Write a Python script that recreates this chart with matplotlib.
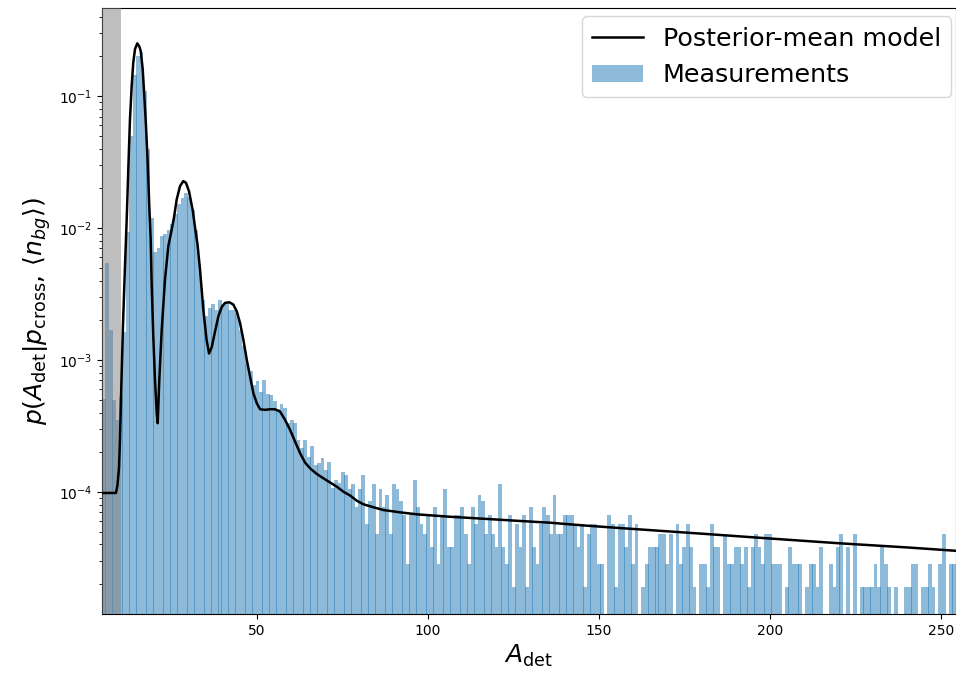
import numpy as np
import matplotlib
matplotlib.use("Agg")
import matplotlib.pyplot as plt

# histogram of A_det: 250 bins between the smallest and largest measurement
a_min, a_max = 4.8, 254.1
n_bins = 250
a_cut = 10.25   # grey band: amplitudes below the detection cut

# densities of the first 72 bins
head_density = [
    5.08e-4, 5.48e-3, 1.70e-3, 5.0e-4, 3.52e-4, 5.26e-4, 1.64e-3, 9.27e-3,
    0.0497, 0.144, 0.200, 0.215, 0.110, 0.040, 0.012, 6.64e-3,
    7.0e-3, 8.63e-3, 8.94e-3, 9.59e-3, 0.01065, 0.0127, 0.0153, 0.0168,
    0.0183, 0.0173, 0.0138, 9.75e-3, 5.3e-3, 2.87e-3, 2.17e-3, 2.49e-3,
    2.68e-3, 2.41e-3, 2.87e-3, 2.68e-3, 2.77e-3, 2.38e-3, 2.38e-3, 2.25e-3,
    1.70e-3, 1.28e-3, 9.37e-4, 8.30e-4, 6.49e-4, 6.96e-4, 5.74e-4, 7.08e-4,
    5.50e-4, 5.45e-4, 4.91e-4, 4.27e-4, 4.66e-4, 4.35e-4, 3.34e-4, 3.52e-4,
    3.34e-4, 2.48e-4, 2.16e-4, 2.48e-4, 1.85e-4, 2.23e-4, 1.60e-4, 1.66e-4,
    1.81e-4, 1.47e-4, 1.69e-4, 1.07e-4, 1.23e-4, 1.17e-4, 1.42e-4, 1.35e-4,
]

# the tail is sparse: counts per bin, one count = 9.55e-6 in density
count_density = 9.55e-6
tail_counts = [
    11, 12, 8, 11, 14, 6, 9, 12, 5, 11, 8, 10, 5, 12, 11, 9, 7, 3, 7, 13,
    8, 6, 5, 7, 4, 8, 3, 7, 11, 4, 4, 7, 7, 8, 5, 3, 8, 6, 10, 9,
    5, 7, 5, 4, 12, 4, 3, 7, 2, 6, 4, 7, 2, 8, 4, 3, 6, 8, 7, 5,
    10, 5, 5, 7, 7, 7, 6, 4, 6, 2, 5, 6, 6, 3, 3, 0,
    7, 6, 2, 6, 6, 4, 7, 3, 6, 0, 2, 3,
    4, 4, 4, 5, 5, 3, 5, 0, 6, 3, 4, 6, 4, 2, 0, 3, 3, 2, 6, 4,
    4, 0, 5, 3, 3, 4, 4, 3, 4, 2, 4, 5, 4, 3, 5, 5, 3, 3, 3, 0,
    2, 4, 3, 3, 3, 0, 2, 3, 3, 2, 4, 0, 0, 3, 2, 4, 5, 0, 4, 0,
    5, 0, 2, 2, 2, 2, 3, 2, 4, 3, 2, 0, 2, 0, 0, 2, 2, 3, 3, 0,
    2, 2, 3, 2, 0, 3, 5, 0, 3, 3,
]

# posterior-mean model curve
model_a = [
    4.8, 7.13, 8.88, 9.32, 9.76, 10.05, 10.49, 10.93, 11.51, 12.01,
    12.48, 12.97, 13.47, 13.94, 14.44, 15.11, 15.69, 16.10, 16.69, 17.15,
    17.65, 18.15, 18.61, 19.02, 19.32, 19.78, 20.28, 20.78, 21.07, 21.54,
    22.24, 23.20, 24.17, 25.16, 25.83, 26.62, 27.59, 28.55, 29.34, 30.22,
    31.30, 31.97, 32.70, 33.43, 34.39, 35.33, 36.06, 36.85, 37.81, 38.78,
    39.77, 40.74, 41.99, 43.16, 44.16, 45.12, 46.08, 47.08, 48.04, 49.01,
    50.0, 50.96, 52.43, 53.89, 55.35, 56.81, 58.27, 59.73, 61.19, 62.65,
    64.11, 65.58, 67.53, 69.46, 71.42, 73.38, 75.31, 77.27, 79.22, 81.15,
    84.07, 87.0, 91.88, 96.76, 106.5, 116.2, 126.0, 135.7, 145.4, 155.2,
    164.9, 181.5, 201.0, 220.5, 240.0, 254.4,
]
model_p = [
    9.83e-5, 9.83e-5, 9.83e-5, 1.13e-4, 1.52e-4, 2.48e-4, 7.08e-4, 1.85e-3, 5.10e-3, 0.0116,
    0.0279, 0.0668, 0.1194, 0.180, 0.227, 0.251, 0.238, 0.220, 0.160, 0.1004,
    0.0594, 0.0313, 0.01466, 8.19e-3, 3.62e-3, 1.51e-3, 7.08e-4, 3.96e-4, 3.32e-4, 7.08e-4,
    1.70e-3, 4.07e-3, 7.29e-3, 9.75e-3, 0.01205, 0.01648, 0.0208, 0.0227, 0.0220, 0.01896,
    0.0136, 0.0101, 7.50e-3, 4.85e-3, 2.41e-3, 1.43e-3, 1.12e-3, 1.25e-3, 1.64e-3, 2.14e-3,
    2.52e-3, 2.71e-3, 2.74e-3, 2.63e-3, 2.34e-3, 1.91e-3, 1.43e-3, 1.005e-3, 7.50e-4, 5.61e-4,
    4.71e-4, 4.24e-4, 4.19e-4, 4.24e-4, 4.23e-4, 4.07e-4, 3.52e-4, 2.96e-4, 2.41e-4, 1.97e-4,
    1.67e-4, 1.51e-4, 1.37e-4, 1.27e-4, 1.18e-4, 1.097e-4, 1.005e-4, 9.40e-5, 8.59e-5, 8.07e-5,
    7.66e-5, 7.30e-5, 7.01e-5, 6.77e-5, 6.49e-5, 6.27e-5, 6.05e-5, 5.85e-5, 5.58e-5, 5.35e-5,
    5.14e-5, 4.80e-5, 4.42e-5, 4.08e-5, 3.80e-5, 3.58e-5,
]

edges = np.linspace(a_min, a_max, n_bins + 1)
density = np.concatenate([head_density, np.array(tail_counts) * count_density])
keep = density > 0

fig = plt.figure(figsize=(9.56, 6.73), dpi=100)
ax = fig.add_axes([0.1067, 0.0877, 0.8928, 0.9004])

# bars slightly wider than the bin spacing: where neighbours overlap by a
# pixel the double alpha shows up as a darker seam
bars = ax.bar(edges[:-1][keep], density[keep], width=1.12, align='edge',
              color='C0', alpha=0.5, linewidth=0, label='Measurements')
line, = ax.plot(model_a, model_p, color='k', lw=1.8, zorder=4,
                label='Posterior-mean model')
ax.axvspan(0, a_cut, color='gray', alpha=0.5, lw=0, zorder=3)

ax.set_yscale('log')
ax.set_xlim(a_min, a_max)
ax.set_ylim(1.19e-5, 0.465)
ax.set_xlabel(r'$A_{\rm det}$', fontsize=18)
ax.set_ylabel(r'$p(A_{\rm det}|p_{\rm cross},\,\langle n_{bg}\rangle)$', fontsize=18)
ax.legend(handles=[line, bars], loc='upper right', fontsize=18.25,
          bbox_to_anchor=(1.01, 1.007))

fig.savefig('out.png', dpi=100)
